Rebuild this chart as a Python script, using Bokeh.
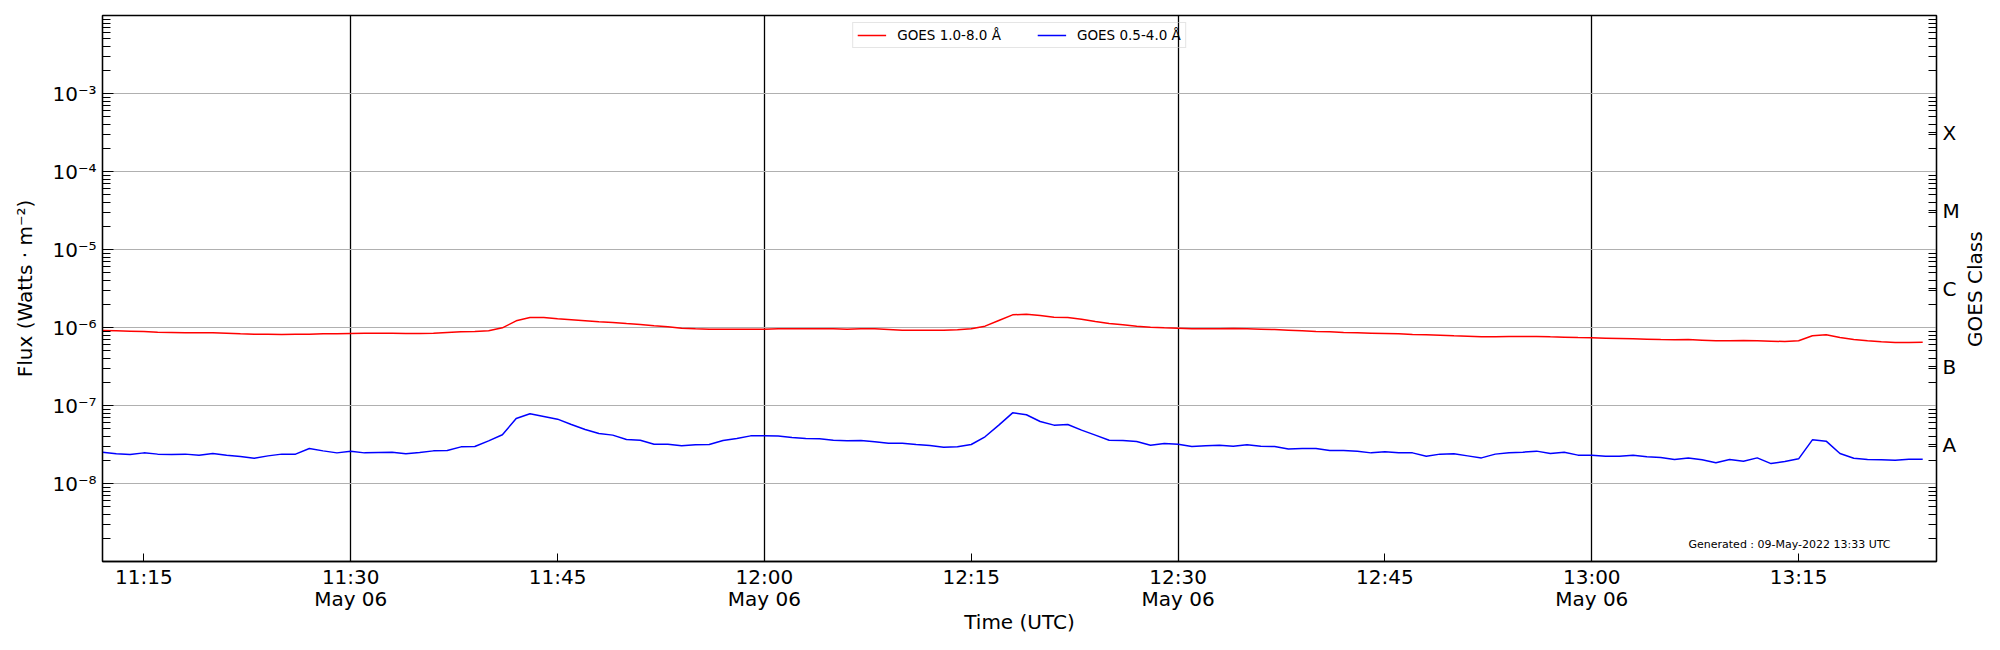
import math
import numpy as np
import pandas as pd
from bokeh.plotting import figure
from bokeh.models import Range1d, FixedTicker, LogAxis, Label
from bokeh.embed import file_html
from bokeh.resources import INLINE

# ---------------- data ----------------
start_time = "2022-05-06 11:12"
x_end_time = "2022-05-06 13:25"
day = "2022-05-06"

# GOES 1.0-8.0 A flux, in units of 1e-6 W m^-2, one value per minute from 11:12
flux_long_e6 = [
    0.915, 0.906, 0.897, 0.889, 0.871, 0.863, 0.854, 0.854, 0.854, 0.846,
    0.829, 0.821, 0.821, 0.813, 0.821, 0.821, 0.829, 0.829, 0.838, 0.846,
    0.846, 0.846, 0.838, 0.838, 0.846, 0.863, 0.880, 0.889, 0.906, 0.990,
    1.218, 1.344, 1.344, 1.291, 1.254, 1.218, 1.182, 1.159, 1.125, 1.093,
    1.050, 1.020, 0.980, 0.961, 0.952, 0.952, 0.952, 0.952, 0.952, 0.961,
    0.961, 0.961, 0.961, 0.961, 0.952, 0.961, 0.961, 0.943, 0.924, 0.924,
    0.924, 0.924, 0.934, 0.961, 1.040, 1.229, 1.453, 1.482, 1.425, 1.357,
    1.344, 1.279, 1.194, 1.125, 1.082, 1.040, 1.010, 0.990, 0.980, 0.961,
    0.961, 0.961, 0.971, 0.961, 0.952, 0.943, 0.924, 0.906, 0.889, 0.880,
    0.863, 0.854, 0.846, 0.838, 0.829, 0.813, 0.805, 0.797, 0.782, 0.774,
    0.759, 0.759, 0.767, 0.767, 0.767, 0.759, 0.752, 0.744, 0.737, 0.730,
    0.722, 0.715, 0.708, 0.701, 0.695, 0.701, 0.688, 0.675, 0.675, 0.681,
    0.675, 0.668, 0.661, 0.675, 0.782, 0.805, 0.744, 0.701, 0.675, 0.655,
    0.642, 0.642, 0.649,
]

# GOES 0.5-4.0 A flux, in units of 1e-8 W m^-2
flux_short_e8 = [
    2.52, 2.40, 2.35, 2.47, 2.38, 2.35, 2.38, 2.31, 2.42, 2.31,
    2.22, 2.11, 2.26, 2.38, 2.38, 2.81, 2.62, 2.47, 2.60, 2.47,
    2.50, 2.52, 2.40, 2.50, 2.62, 2.65, 2.95, 2.98, 3.52, 4.21,
    6.81, 7.82, 7.23, 6.68, 5.71, 4.92, 4.38, 4.17, 3.67, 3.59,
    3.19, 3.19, 3.04, 3.13, 3.16, 3.56, 3.78, 4.08, 4.08, 4.05,
    3.89, 3.78, 3.74, 3.59, 3.52, 3.56, 3.42, 3.29, 3.29, 3.16,
    3.07, 2.92, 2.95, 3.16, 3.97, 5.60, 8.05, 7.60, 6.23, 5.60,
    5.71, 4.83, 4.17, 3.59, 3.56, 3.45, 3.10, 3.26, 3.19, 2.98,
    3.04, 3.10, 3.01, 3.13, 3.01, 2.98, 2.76, 2.81, 2.81, 2.65,
    2.65, 2.60, 2.47, 2.55, 2.47, 2.47, 2.24, 2.38, 2.40, 2.26,
    2.13, 2.38, 2.47, 2.52, 2.60, 2.42, 2.52, 2.31, 2.31, 2.24,
    2.24, 2.31, 2.20, 2.15, 2.03, 2.13, 2.01, 1.84, 2.03, 1.93,
    2.13, 1.80, 1.91, 2.07, 3.63, 3.49, 2.42, 2.11, 2.03, 2.01,
    1.99, 2.05, 2.05,
]

series_names = ["GOES 1.0-8.0 Å", "GOES 0.5-4.0 Å"]
series_colors = ["#ff0000", "#0000ff"]

x_tick_labels = ["11:15", "11:30", "11:45", "12:00", "12:15", "12:30",
                 "12:45", "13:00", "13:15"]
date_labels = {"11:30": "May 06", "12:00": "May 06", "12:30": "May 06", "13:00": "May 06"}

y_tick_exponents = [-8, -7, -6, -5, -4, -3]
goes_classes = ["A", "B", "C", "M", "X"]
class_exponents = [-7.5, -6.5, -5.5, -4.5, -3.5]
class_axis_title = "GOES Class"

y_min, y_max = 1e-9, 1e-2
generated_text = "Generated : 09-May-2022 13:33 UTC"

# annotation anchors (positions only)
generated_time = "2022-05-06 13:21:40"
generated_flux = 1.63e-9
class_title_anchor_exp = -6.25   # rotated text starts here and runs upward

# ---------------- build ----------------
FONT = "DejaVu Sans"
sup = str.maketrans("-0123456789", "⁻⁰¹²³⁴⁵⁶⁷⁸⁹")

def ms(t):
    return int(pd.Timestamp(t).value // 10**6)

times = pd.date_range(start_time, periods=len(flux_long_e6), freq="min")
flux_long = np.array(flux_long_e6) * 1e-6
flux_short = np.array(flux_short_e8) * 1e-8

p = figure(
    x_axis_type="datetime", y_axis_type="log",
    x_range=Range1d(ms(start_time), ms(x_end_time)),
    y_range=Range1d(y_min, y_max),
    frame_width=1834, frame_height=546,
    min_border_left=102, min_border_right=60, min_border_top=15, min_border_bottom=73,
    output_backend="svg", toolbar_location=None, title_location=None,
    background_fill_color="white", border_fill_color="white",
)
p.outline_line_color = "black"
p.outline_line_width = 1.3
p.outline_line_alpha = 1.0

p.line(times, flux_long, color=series_colors[0], line_width=1.5, legend_label=series_names[0])
p.line(times, flux_short, color=series_colors[1], line_width=1.5, legend_label=series_names[1])

# x axis
tick_ms = [ms(day + " " + t) for t in x_tick_labels]
xaxis = p.xaxis[0]
xaxis.ticker = FixedTicker(ticks=tick_ms, minor_ticks=[])
xaxis.major_label_overrides = {
    m: (t + "\n" + date_labels[t]) if t in date_labels else t
    for m, t in zip(tick_ms, x_tick_labels)
}
xaxis.axis_label = "Time (UTC)"
xaxis.major_tick_in = 8
xaxis.major_tick_out = 0
xaxis.major_label_standoff = 3
xaxis.axis_label_standoff = -4
xaxis.major_label_text_line_height = 0.95

# left y axis
decades = [10.0 ** e for e in y_tick_exponents]
minor = [k * 10.0 ** e for e in range(-9, -2) for k in range(2, 10)]
yaxis = p.yaxis[0]
yaxis.ticker = FixedTicker(ticks=decades, minor_ticks=minor)
yaxis.major_label_overrides = {10.0 ** e: "10" + str(e).translate(sup) for e in y_tick_exponents}
yaxis.axis_label = "Flux (Watts · m" + "-2".translate(sup) + ")"
yaxis.major_tick_in = 11
yaxis.major_tick_out = 0
yaxis.minor_tick_in = 8
yaxis.minor_tick_out = 0
yaxis.major_label_standoff = 6
yaxis.axis_label_standoff = 12

# right axis: GOES class letters
class_ticks = [10.0 ** e for e in class_exponents]
raxis = LogAxis(
    ticker=FixedTicker(ticks=class_ticks, minor_ticks=minor),
    major_label_overrides={10.0 ** e: c for e, c in zip(class_exponents, goes_classes)},
    major_tick_in=8, major_tick_out=0, minor_tick_in=8, minor_tick_out=0,
    major_label_standoff=6,
)
p.add_layout(raxis, "right")

# right-hand title "GOES Class", as the one label of an outer axis, reading bottom to top
title_tick = 10.0 ** class_title_anchor_exp
title_axis = LogAxis(
    ticker=FixedTicker(ticks=[title_tick], minor_ticks=[]),
    major_label_overrides={title_tick: class_axis_title},
    major_label_orientation=math.pi / 2,
    major_tick_in=0, major_tick_out=0, minor_tick_in=0, minor_tick_out=0,
    major_label_standoff=12, axis_line_color=None,
)
p.add_layout(title_axis, "right")

for ax in [xaxis, yaxis, raxis, title_axis]:
    if ax is not title_axis:
        ax.axis_line_color = "black"
        ax.axis_line_width = 1.3
    ax.major_tick_line_color = "black"
    ax.minor_tick_line_color = "black"
    ax.major_tick_line_width = 1
    ax.minor_tick_line_width = 1
    ax.major_label_text_font = FONT
    ax.major_label_text_font_size = "20px"
    ax.major_label_text_color = "black"
    ax.axis_label_text_font = FONT
    ax.axis_label_text_font_size = "20px"
    ax.axis_label_text_font_style = "normal"
    ax.axis_label_text_color = "black"

# grids
p.xgrid[0].ticker = FixedTicker(ticks=[ms(day + " " + t) for t in date_labels])
p.xgrid[0].grid_line_color = "black"
p.xgrid[0].grid_line_width = 1.3
p.xgrid[0].grid_line_alpha = 1.0
p.ygrid[0].ticker = FixedTicker(ticks=decades)
p.ygrid[0].grid_line_color = "#b0b0b0"
p.ygrid[0].grid_line_width = 1.1
p.ygrid[0].minor_grid_line_color = None

# legend
lg = p.legend[0]
lg.location = "top_center"
lg.orientation = "horizontal"
lg.margin = 7
lg.padding = 4
lg.spacing = 36
lg.glyph_width = 29
lg.glyph_height = 16
lg.label_standoff = 11
lg.label_text_font = FONT
lg.label_text_font_size = "13.5px"
lg.label_text_color = "black"
lg.border_line_color = "#cccccc"
lg.border_line_width = 1
lg.background_fill_alpha = 0.0

# generated stamp
p.add_layout(Label(
    x=ms(generated_time), y=generated_flux, text=generated_text,
    text_align="right", text_baseline="middle",
    text_font=FONT, text_font_size="11px", text_color="black",
))

open("out.html", "w").write(file_html(p, INLINE))
